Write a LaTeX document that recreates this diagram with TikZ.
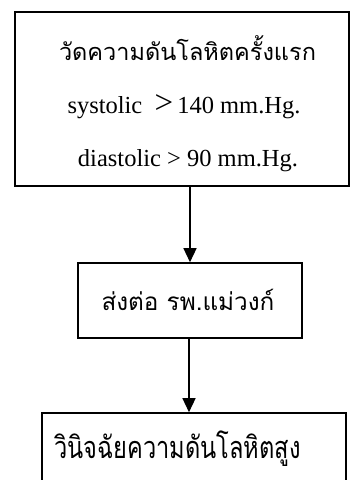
\documentclass[tikz,border=0pt]{standalone}
\usepackage{fontspec}
\setmainfont{Liberation Serif}
\newfontfamily\thai[Script=Thai]{Loma}
\usetikzlibrary{arrows.meta}
\begin{document}
\begin{tikzpicture}[x=1pt,y=-1pt,
  box/.style={draw,line width=1.6pt,inner sep=0pt},
  flow/.style={line width=1.4pt,-{Triangle[width=13pt,length=14pt]}},
  txt/.style={anchor=base,inner sep=0pt}]
\useasboundingbox (0,0) rectangle (351,480);
\clip (0,0) rectangle (351,480);
% boxes
\node[box,minimum width=334pt,minimum height=174pt] (b1) at (182,99) {};
\node[box,minimum width=224pt,minimum height=75pt] (b2) at (190,300.5) {};
\node[box,minimum width=304pt,minimum height=90pt] (b3) at (194,458) {};
% texts
\node[txt] (t1) at (187.5,60) {\thai\fontsize{23.5}{28}\selectfont วัดความดันโลหิตครั้งแรก};
\node[txt] (t2) at (184,113) {\fontsize{24.5}{28}\selectfont systolic\ \ {\fontsize{33}{33}\selectfont >}\,140 mm.Hg.};
\node[txt] (t3) at (188,166) {\fontsize{24.5}{28}\selectfont diastolic > 90 mm.Hg.};
\node[txt] (t4) at (188,310) {\thai\fontsize{24.3}{28}\selectfont ส่งต่อ รพ.แม่วงก์};
\node[txt] (t5) at (177.5,458) {\scalebox{1}[1.3]{\thai\fontsize{23.6}{28}\selectfont วินิจฉัยความดันโลหิตสูง}};
% connectors
\draw[flow] (b1.south -| b2.center) -- (b2.north);
\draw[flow] (b2.south -| 189,0) -- (b3.north -| 189,0);
\end{tikzpicture}
\end{document}
